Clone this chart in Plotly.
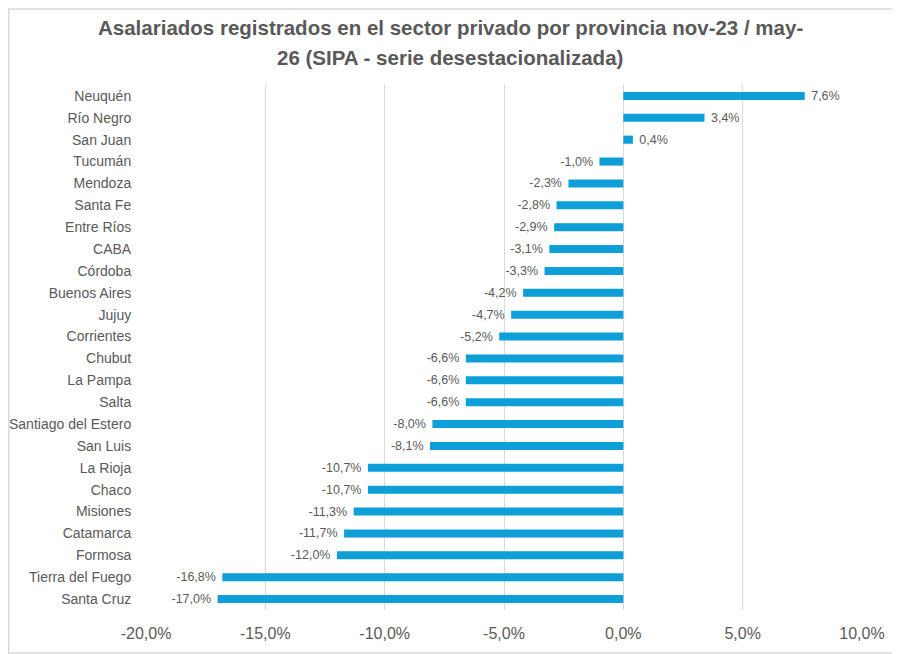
import plotly.graph_objects as go

provinces = ["Neuquén", "Río Negro", "San Juan", "Tucumán", "Mendoza", "Santa Fe", "Entre Ríos",
             "CABA", "Córdoba", "Buenos Aires", "Jujuy", "Corrientes", "Chubut", "La Pampa", "Salta",
             "Santiago del Estero", "San Luis", "La Rioja", "Chaco", "Misiones", "Catamarca",
             "Formosa", "Tierra del Fuego", "Santa Cruz"]
values = [7.6, 3.4, 0.4, -1.0, -2.3, -2.8, -2.9, -3.1, -3.3, -4.2, -4.7, -5.2, -6.6, -6.6, -6.6,
          -8.0, -8.1, -10.7, -10.7, -11.3, -11.7, -12.0, -16.8, -17.0]
tick_vals = [-20, -15, -10, -5, 0, 5, 10]
tick_text = ["-20,0%", "-15,0%", "-10,0%", "-5,0%", "0,0%", "5,0%", "10,0%"]

labels = [(" " + f"{v:.1f}%".replace(".", ",")) if v >= 0 else (f"{v:.1f}%".replace(".", ",") + " ")
          for v in values]

FONT = "Liberation Sans, Arial"
GRAY = "#595959"

# page body has an 8px default margin: figure coordinates = screen - 8
W, H = 892, 646
L, R, T, B = 138, 38, 77, 44
PW, PH = W - L - R, H - T - B

fig = go.Figure(go.Bar(
    x=values, y=provinces, orientation="h",
    marker=dict(color="#0E9ED8", line=dict(width=0)),
    text=labels, textposition="outside", cliponaxis=False, constraintext="none",
    textfont=dict(family=FONT, size=12.5, color=GRAY),
))

title_lines = ["Asalariados registrados en el sector privado por provincia nov-23 / may-",
               "26 (SIPA - serie desestacionalizada)"]
title_y = [27 - 8, 57 - 8]
annotations = [dict(text=f"<b>{t}</b>", xref="paper", yref="paper",
                    x=(450 - 8 - L) / PW, y=(H - B - fy) / PH,
                    xanchor="center", yanchor="middle", showarrow=False,
                    font=dict(family=FONT, size=20.5, color=GRAY))
               for t, fy in zip(title_lines, title_y)]

fig.update_layout(
    width=W, height=H,
    paper_bgcolor="white", plot_bgcolor="white",
    margin=dict(l=L, r=R, t=T, b=B),
    bargap=0.63,
    showlegend=False,
    annotations=annotations,
    xaxis=dict(
        range=[-20, 10], tickvals=tick_vals, ticktext=tick_text,
        showgrid=True, gridcolor="#D9D9D9", gridwidth=1, zeroline=False,
        tickfont=dict(family=FONT, size=16, color=GRAY), ticks="outside",
        ticklen=9, tickcolor="white", automargin=False,
        fixedrange=True,
    ),
    yaxis=dict(
        autorange="reversed", showgrid=False, zeroline=False,
        tickfont=dict(family=FONT, size=14, color=GRAY), ticks="outside",
        ticklen=11, tickcolor="white", automargin=False, fixedrange=True,
    ),
    shapes=[dict(type="rect", xref="paper", yref="paper",
                 x0=-L / PW + 0.001, x1=(W - L) / PW - 0.001,
                 y0=-B / PH + 0.002, y1=(H - B) / PH - 0.002,
                 line=dict(color="#D9D9D9", width=1.5))],
)

fig.write_html("out.html")
